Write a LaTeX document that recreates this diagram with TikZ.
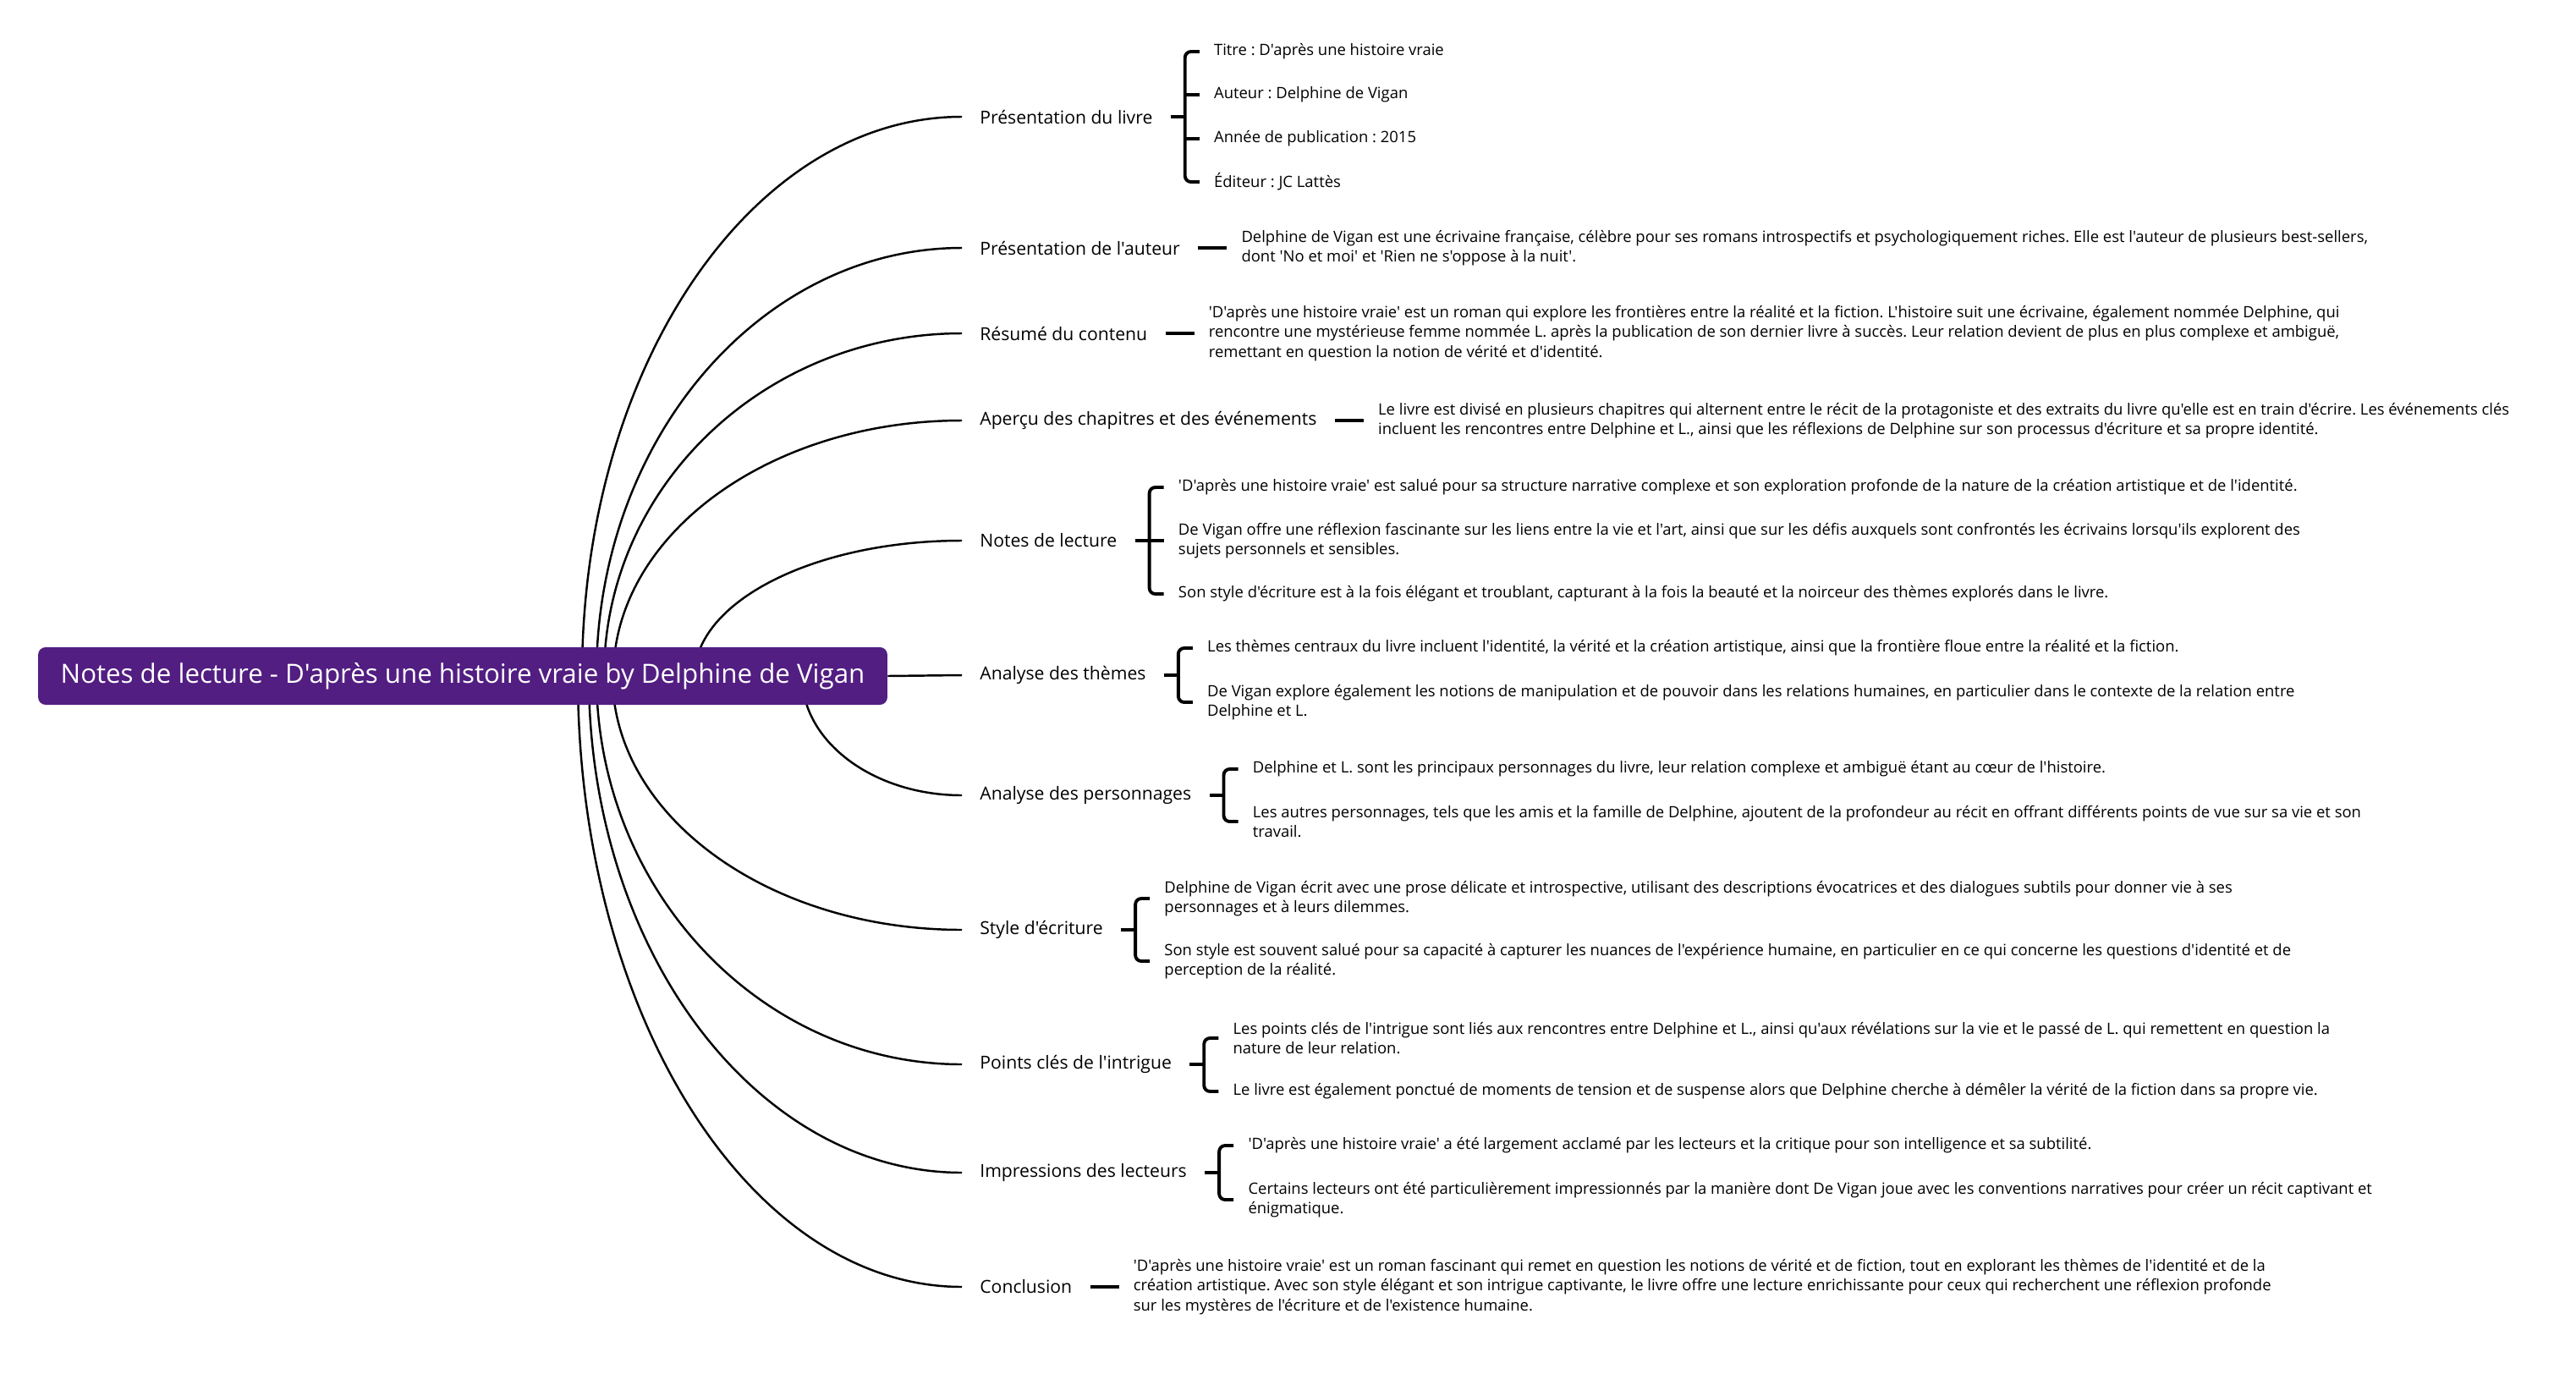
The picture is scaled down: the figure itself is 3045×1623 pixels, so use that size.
\documentclass[tikz,border=0pt]{standalone}
\usepackage{fontspec}
\setmainfont{Open Sans}[Ligatures=TeXOff]
\usetikzlibrary{calc, positioning}
\definecolor{rootpurple}{RGB}{82,30,130}
\frenchspacing

\begin{document}
\begin{tikzpicture}[
    x=0.02cm, y=-0.02cm,
    root/.style={fill=rootpurple, rounded corners=5pt, text=white, minimum width=20.08cm, minimum height=1.36cm, font=\fontsize{17.8}{20}\selectfont},
    branch/.style={anchor=west, inner xsep=0.42cm, inner ysep=2pt, font=\fontsize{12.05}{14}\selectfont},
    leaf/.style={anchor=west, inner xsep=0.34cm, inner ysep=1pt, align=left, font=\fontsize{10.5}{13.26}\selectfont},
    link/.style={line width=1.4pt},
    brace/.style={line width=2.2pt, rounded corners=4pt}
]
\fill[white] (0,0) rectangle (3045,1623);
\useasboundingbox (0,0) rectangle (3045,1623);

% Main branches
\node[branch] (b1) at (1137,138) {Présentation du livre};
\node[branch] (b2) at (1137,293) {Présentation de l'auteur};
\node[branch] (b3) at (1137,394) {Résumé du contenu};
\node[branch] (b4) at (1137,497) {Aperçu des chapitres et des événements};
\node[branch] (b5) at (1137,639) {Notes de lecture};
\node[branch] (b6) at (1137,798) {Analyse des thèmes};
\node[branch] (b7) at (1137,940) {Analyse des personnages};
\node[branch] (b8) at (1137,1099) {Style d'écriture};
\node[branch] (b9) at (1137,1258) {Points clés de l'intrigue};
\node[branch] (b10) at (1137,1386) {Impressions des lecteurs};
\node[branch] (b11) at (1137,1521) {Conclusion};

% Curves out of the root
\coordinate (s1) at (688,799);
\coordinate (s2) at (705,799);
\coordinate (s3) at (714,799);
\coordinate (s4) at (725,799);
\coordinate (s5) at (821,799);
\coordinate (s7) at (948,799);
\coordinate (s8) at (724,799);
\coordinate (s9) at (705,799);
\coordinate (s10) at (696,799);
\coordinate (s11) at (683,799);
\draw[link] (s1) .. controls +(0,-365) and +(-248,0) .. (b1.west);
\draw[link] (s2) .. controls +(0,-279) and +(-238,0) .. (b2.west);
\draw[link] (s3) .. controls +(0,-224) and +(-233,0) .. (b3.west);
\draw[link] (s4) .. controls +(0,-167) and +(-227,0) .. (b4.west);
\draw[link] (s5) .. controls +(0,-88) and +(-174,0) .. (b5.west);
\draw[link] (s7) .. controls +(0,78) and +(-104,0) .. (b7.west);
\draw[link] (s8) .. controls +(0,166) and +(-228,0) .. (b8.west);
\draw[link] (s9) .. controls +(0,253) and +(-238,0) .. (b9.west);
\draw[link] (s10) .. controls +(0,324) and +(-243,0) .. (b10.west);
\draw[link] (s11) .. controls +(0,399) and +(-251,0) .. (b11.west);

% Root
\node[root] (root) at (547,799) {Notes de lecture - D'après une histoire vraie by Delphine de Vigan};
\draw[link] (root.east) -- (b6.west);

% Présentation du livre
\node[leaf] (l1a) at ($(b1.east)+(34,-77)$) {Titre : D'après une histoire vraie};
\node[leaf] (l1b) at ($(b1.east)+(34,-26)$) {Auteur : Delphine de Vigan};
\node[leaf] (l1c) at ($(b1.east)+(34,26)$) {Année de publication : 2015};
\node[leaf] (l1d) at ($(b1.east)+(34,77)$) {Éditeur : JC Lattès};
\draw[brace] (b1.east) -- ++(17,0);
\draw[brace] (l1a.west) -| ($(b1.east)+(17,0)$) |- (l1d.west);
\draw[brace] (l1b.west) -- ++(-17,0);
\draw[brace] (l1c.west) -- ++(-17,0);

% Présentation de l'auteur
\node[leaf] (l2) at ($(b2.east)+(34,0)$) {Delphine de Vigan est une écrivaine française, célèbre pour ses romans introspectifs et psychologiquement riches. Elle est l'auteur de plusieurs best-sellers,\\dont 'No et moi' et 'Rien ne s'oppose à la nuit'.};
\draw[brace] (b2.east) -- (l2.west);

% Résumé du contenu
\node[leaf] (l3) at ($(b3.east)+(34,0)$) {'D'après une histoire vraie' est un roman qui explore les frontières entre la réalité et la fiction. L'histoire suit une écrivaine, également nommée Delphine, qui\\rencontre une mystérieuse femme nommée L. après la publication de son dernier livre à succès. Leur relation devient de plus en plus complexe et ambiguë,\\remettant en question la notion de vérité et d'identité.};
\draw[brace] (b3.east) -- (l3.west);

% Aperçu des chapitres
\node[leaf] (l4) at ($(b4.east)+(34,0)$) {Le livre est divisé en plusieurs chapitres qui alternent entre le récit de la protagoniste et des extraits du livre qu'elle est en train d'écrire. Les événements clés\\incluent les rencontres entre Delphine et L., ainsi que les réflexions de Delphine sur son processus d'écriture et sa propre identité.};
\draw[brace] (b4.east) -- (l4.west);

% Notes de lecture
\node[leaf] (l5a) at ($(b5.east)+(34,-63)$) {'D'après une histoire vraie' est salué pour sa structure narrative complexe et son exploration profonde de la nature de la création artistique et de l'identité.};
\node[leaf] (l5b) at ($(b5.east)+(34,0)$) {De Vigan offre une réflexion fascinante sur les liens entre la vie et l'art, ainsi que sur les défis auxquels sont confrontés les écrivains lorsqu'ils explorent des\\sujets personnels et sensibles.};
\node[leaf] (l5c) at ($(b5.east)+(34,63)$) {Son style d'écriture est à la fois élégant et troublant, capturant à la fois la beauté et la noirceur des thèmes explorés dans le livre.};
\draw[brace] (b5.east) -- (l5b.west);
\draw[brace] (l5a.west) -| ($(b5.east)+(17,0)$) |- (l5c.west);

% Analyse des thèmes
\node[leaf] (l6a) at ($(b6.east)+(34,-32)$) {Les thèmes centraux du livre incluent l'identité, la vérité et la création artistique, ainsi que la frontière floue entre la réalité et la fiction.};
\node[leaf] (l6b) at ($(b6.east)+(34,32)$) {De Vigan explore également les notions de manipulation et de pouvoir dans les relations humaines, en particulier dans le contexte de la relation entre\\Delphine et L.};
\draw[brace] (b6.east) -- ++(17,0);
\draw[brace] (l6a.west) -| ($(b6.east)+(17,0)$) |- (l6b.west);

% Analyse des personnages
\node[leaf] (l7a) at ($(b7.east)+(34,-31)$) {Delphine et L. sont les principaux personnages du livre, leur relation complexe et ambiguë étant au cœur de l'histoire.};
\node[leaf] (l7b) at ($(b7.east)+(34,31)$) {Les autres personnages, tels que les amis et la famille de Delphine, ajoutent de la profondeur au récit en offrant différents points de vue sur sa vie et son\\travail.};
\draw[brace] (b7.east) -- ++(17,0);
\draw[brace] (l7a.west) -| ($(b7.east)+(17,0)$) |- (l7b.west);

% Style d'écriture
\node[leaf] (l8a) at ($(b8.east)+(34,-37)$) {Delphine de Vigan écrit avec une prose délicate et introspective, utilisant des descriptions évocatrices et des dialogues subtils pour donner vie à ses\\personnages et à leurs dilemmes.};
\node[leaf] (l8b) at ($(b8.east)+(34,37)$) {Son style est souvent salué pour sa capacité à capturer les nuances de l'expérience humaine, en particulier en ce qui concerne les questions d'identité et de\\perception de la réalité.};
\draw[brace] (b8.east) -- ++(17,0);
\draw[brace] (l8a.west) -| ($(b8.east)+(17,0)$) |- (l8b.west);

% Points clés de l'intrigue
\node[leaf] (l9a) at ($(b9.east)+(34,-31)$) {Les points clés de l'intrigue sont liés aux rencontres entre Delphine et L., ainsi qu'aux révélations sur la vie et le passé de L. qui remettent en question la\\nature de leur relation.};
\node[leaf] (l9b) at ($(b9.east)+(34,32)$) {Le livre est également ponctué de moments de tension et de suspense alors que Delphine cherche à démêler la vérité de la fiction dans sa propre vie.};
\draw[brace] (b9.east) -- ++(17,0);
\draw[brace] (l9a.west) -| ($(b9.east)+(17,0)$) |- (l9b.west);

% Impressions des lecteurs
\node[leaf] (l10a) at ($(b10.east)+(34,-32)$) {'D'après une histoire vraie' a été largement acclamé par les lecteurs et la critique pour son intelligence et sa subtilité.};
\node[leaf] (l10b) at ($(b10.east)+(34,32)$) {Certains lecteurs ont été particulièrement impressionnés par la manière dont De Vigan joue avec les conventions narratives pour créer un récit captivant et\\énigmatique.};
\draw[brace] (b10.east) -- ++(17,0);
\draw[brace] (l10a.west) -| ($(b10.east)+(17,0)$) |- (l10b.west);

% Conclusion
\node[leaf] (l11) at ($(b11.east)+(34,0)$) {'D'après une histoire vraie' est un roman fascinant qui remet en question les notions de vérité et de fiction, tout en explorant les thèmes de l'identité et de la\\création artistique. Avec son style élégant et son intrigue captivante, le livre offre une lecture enrichissante pour ceux qui recherchent une réflexion profonde\\sur les mystères de l'écriture et de l'existence humaine.};
\draw[brace] (b11.east) -- (l11.west);

\end{tikzpicture}
\end{document}
